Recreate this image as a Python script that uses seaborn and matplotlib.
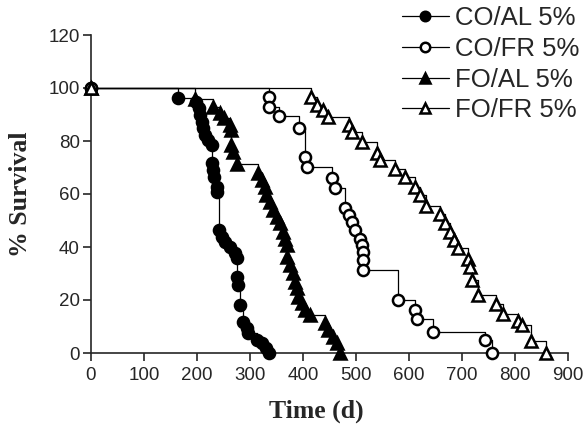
import matplotlib
matplotlib.use("Agg")
import matplotlib.pyplot as plt
import seaborn as sns
import pandas as pd

# Kaplan-Meier points (time in days, % survival)
co_al_t = [0, 165, 199, 203, 206, 209, 212, 215, 221, 228, 228, 230, 232, 237, 237,
           242, 247, 253, 262, 272, 275, 275, 278, 281, 287, 294, 297, 313, 322, 331, 335]
co_al_s = [100, 96.3, 94.8, 92.3, 89.8, 87.3, 84.8, 82.3, 80.4, 78.5, 71.6, 69.0, 66.5, 62.7, 60.8,
           46.4, 43.9, 42.0, 40.1, 37.6, 35.7, 28.8, 25.6, 18.1, 11.8, 9.3, 7.4, 4.9, 3.6, 1.7, 0]

co_fr_t = [0, 335, 335, 354, 392, 404, 407, 454, 460, 479, 486, 492, 498, 508, 511,
           514, 514, 514, 580, 611, 615, 646, 743, 757]
co_fr_s = [100, 96.7, 92.9, 89.5, 84.8, 74.1, 70.3, 65.9, 62.1, 54.6, 52.1, 49.6, 46.4, 43.2, 40.8,
           38.2, 35.1, 31.3, 19.9, 16.1, 13.0, 8.0, 4.9, 0]

fo_al_t = [0, 196, 231, 243, 250, 262, 265, 265, 268, 275, 316, 322, 328, 331, 338, 344,
           350, 357, 363, 366, 369, 369, 376, 382, 385, 388, 391, 398, 404, 413,
           442, 448, 457, 464, 470]
fo_al_s = [100, 96.0, 92.9, 90.4, 88.5, 86.0, 84.1, 78.5, 75.9, 71.5, 67.8, 65.3, 62.8, 59.6, 57.1, 54.0,
           51.4, 48.9, 45.7, 43.1, 40.8, 36.4, 33.2, 30.1, 26.9, 24.4, 21.2, 18.7, 16.2, 14.3,
           11.2, 8.7, 6.2, 3.6, 0]

fo_fr_t = [0, 416, 426, 438, 448, 486, 492, 511, 539, 545, 574, 593, 611, 621, 633,
           659, 668, 677, 684, 693, 712, 715, 718, 731, 765, 778, 806, 813, 830, 858]
fo_fr_s = [100, 96.7, 93.6, 91.7, 89.2, 86.0, 83.5, 79.7, 75.4, 72.8, 69.5, 66.5, 62.5, 59.6, 55.5,
           52.6, 49.0, 45.5, 42.5, 39.5, 35.6, 32.5, 27.4, 21.7, 18.6, 14.8, 12.0, 10.6, 4.5, 0]

groups = ["CO/AL 5%", "CO/FR 5%", "FO/AL 5%", "FO/FR 5%"]
times = [co_al_t, co_fr_t, fo_al_t, fo_fr_t]
survs = [co_al_s, co_fr_s, fo_al_s, fo_fr_s]
marks = ["o", "o", "^", "^"]
faces = ["black", "white", "black", "white"]

sns.set_style("ticks")
plt.rcParams["font.family"] = ["Liberation Sans", "DejaVu Sans"]

fig = plt.figure(figsize=(5.85, 4.26), dpi=100)
ax = fig.add_axes([91 / 585, 73 / 426, 477 / 585, 318 / 426])

for name, t, s, m, fc in zip(groups, times, survs, marks, faces):
    df = pd.DataFrame({"t": t, "s": s})
    sns.lineplot(data=df, x="t", y="s", ax=ax, estimator=None, sort=False,
                 drawstyle="steps-post", color="black", linewidth=0.9,
                 marker=m, markersize=8 if m == "o" else 8.5,
                 markerfacecolor=fc, markeredgecolor="black",
                 markeredgewidth=1.8, label=name, clip_on=False, zorder=3)

ax.set_xlim(0, 900)
ax.set_ylim(0, 120)
ax.set_xticks(range(0, 901, 100))
ax.set_yticks(range(0, 121, 20))
sns.despine(ax=ax)
for sp in ("left", "bottom"):
    ax.spines[sp].set_linewidth(1.2)
ax.tick_params(direction="out", length=6, width=1.2, labelsize=13.5)
ax.tick_params(axis="x", pad=4)
ax.tick_params(axis="y", pad=2)

ax.set_xlabel("Time (d)", family="Liberation Serif", fontweight="bold", fontsize=18.5)
ax.set_ylabel("% Survival", family="Liberation Serif", fontweight="bold", fontsize=18.5)
ax.xaxis.set_label_coords(0.472, -0.148)
ax.yaxis.set_label_coords(-0.124, 0.5)

leg = ax.legend(loc="upper right", bbox_to_anchor=(0.99, 0.985), bbox_transform=fig.transFigure,
                frameon=False, fontsize=18.5, handlelength=1.85, handletextpad=0.22,
                labelspacing=0.26, borderaxespad=0.0, borderpad=0.0, markerscale=0.85)

fig.savefig("out.png", dpi=100)
